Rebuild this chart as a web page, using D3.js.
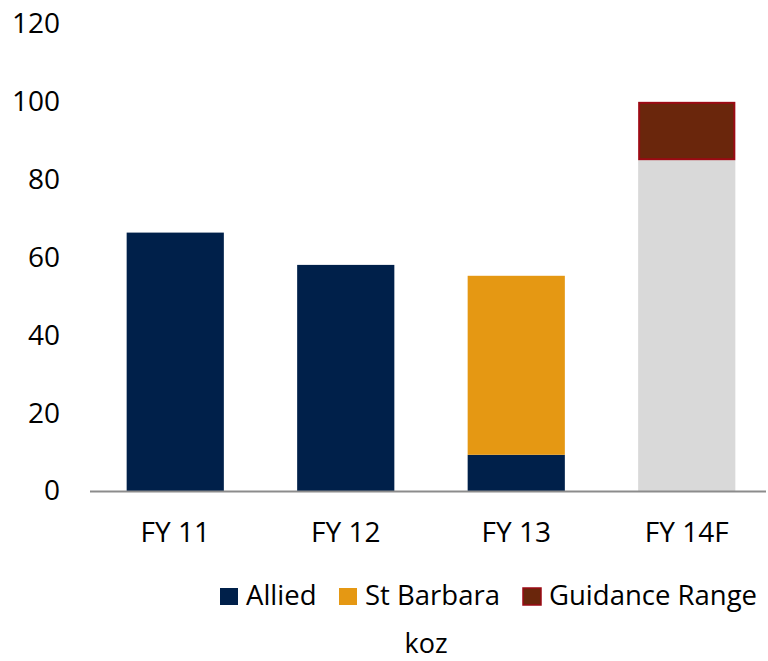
<!DOCTYPE html>
<html>
<head>
<meta charset="utf-8">
<script src="https://cdn.jsdelivr.net/npm/d3@7"></script>
<style>
  body { margin: 0; background: #fff; }
  text { font-family: "Open Sans", "Noto Sans", sans-serif; fill: #000; }
</style>
</head>
<body>
<script>
// data (koz)
const categories = ["FY 11", "FY 12", "FY 13", "FY 14F"]
const allied     = [66.4, 58.1, 9.3, 0]
const stBarbara  = [0, 0, 46.0, 0]
const guidanceLow  = [0, 0, 0, 85]
const guidanceHigh = [0, 0, 0, 100]
const yTicks = [0, 20, 40, 60, 80, 100, 120]
const legendNames = ["Allied", "St Barbara", "Guidance Range"]

const svgWidth = 768
const svgHeight = 661

const svg = d3.select("body")
  .append("svg")
    .attr("width", svgWidth)
    .attr("height", svgHeight)

const xScale = d3.scaleBand()
  .domain(categories)
  .range([90, 772])
  .paddingInner(0.43)
  .paddingOuter(0.215)

const yScale = d3.scaleLinear()
  .domain([0, 120])
  .range([491, 24])

// bars
// gray base for the forecast year
svg.selectAll("rect.base")
  .data(categories.filter((c, i) => guidanceLow[i] > 0))
  .enter().append("rect")
    .attr("class", "base")
    .attr("x", d => xScale(d))
    .attr("width", xScale.bandwidth())
    .attr("y", d => yScale(guidanceLow[categories.indexOf(d)]))
    .attr("height", d => yScale(0) - yScale(guidanceLow[categories.indexOf(d)]))
    .attr("fill", "#d9d9d9")

svg.selectAll("rect.guide")
  .data(categories.filter((c, i) => guidanceHigh[i] > 0))
  .enter().append("rect")
    .attr("class", "guide")
    .attr("x", d => xScale(d) + 1)
    .attr("width", xScale.bandwidth() - 2)
    .attr("y", d => yScale(guidanceHigh[categories.indexOf(d)]) + 1)
    .attr("height", d => {
      const i = categories.indexOf(d)
      return yScale(guidanceLow[i]) - yScale(guidanceHigh[i]) - 2
    })
    .attr("fill", "#6a260c")
    .attr("stroke", "#9c0a14")
    .attr("stroke-width", 2)

svg.selectAll("rect.allied")
  .data(categories)
  .enter().append("rect")
    .attr("class", "allied")
    .attr("x", d => xScale(d))
    .attr("width", xScale.bandwidth())
    .attr("y", (d, i) => yScale(allied[i]))
    .attr("height", (d, i) => yScale(0) - yScale(allied[i]))
    .attr("fill", "#00204a")

svg.selectAll("rect.stb")
  .data(categories)
  .enter().append("rect")
    .attr("class", "stb")
    .attr("x", d => xScale(d))
    .attr("width", xScale.bandwidth())
    .attr("y", (d, i) => yScale(allied[i] + stBarbara[i]))
    .attr("height", (d, i) => yScale(allied[i]) - yScale(allied[i] + stBarbara[i]))
    .attr("fill", "#e59813")

// y axis labels (no line)
const yAxis = d3.axisLeft(yScale)
  .tickValues(yTicks)
  .tickSize(0)
  .tickPadding(0)

const yg = svg.append("g")
  .attr("transform", "translate(60,0)")
  .call(yAxis)
yg.select(".domain").remove()
yg.selectAll("text")
  .attr("font-size", 28)
  .attr("font-family", "'Open Sans', sans-serif")
  .attr("fill", "#000")

// x axis
const xAxis = d3.axisBottom(xScale).tickSize(0)
const xg = svg.append("g")
  .attr("transform", "translate(0," + yScale(0) + ")")
  .call(xAxis)
xg.select(".domain")
  .attr("d", "M90,0.5H766")
  .attr("stroke", "#8c8c8c")
  .attr("stroke-width", 2)
xg.selectAll("text")
  .attr("y", 51)
  .attr("dy", 0)
  .attr("font-size", 28)
  .attr("font-family", "'Open Sans', sans-serif")
  .attr("fill", "#000")

// legend
const legendColors = ["#00204a", "#e59813", "#6a260c"]
const legendX = [220, 339, 523]
const legend = svg.selectAll("g.legend")
  .data(legendNames)
  .enter().append("g")
    .attr("class", "legend")
    .attr("transform", (d, i) => "translate(" + legendX[i] + ",588)")
legend.append("rect")
  .attr("width", 18)
  .attr("height", 17)
  .attr("fill", (d, i) => legendColors[i])
  .attr("stroke", (d, i) => i == 2 ? "#9c0a14" : "none")
  .attr("stroke-width", 1.5)
legend.append("text")
  .attr("x", 26)
  .attr("y", 17)
  .attr("font-size", 27.5)
  .text(d => d)

svg.append("text")
  .attr("x", 426)
  .attr("y", 653)
  .attr("text-anchor", "middle")
  .attr("font-size", 27)
  .text("koz")
</script>
</body>
</html>
